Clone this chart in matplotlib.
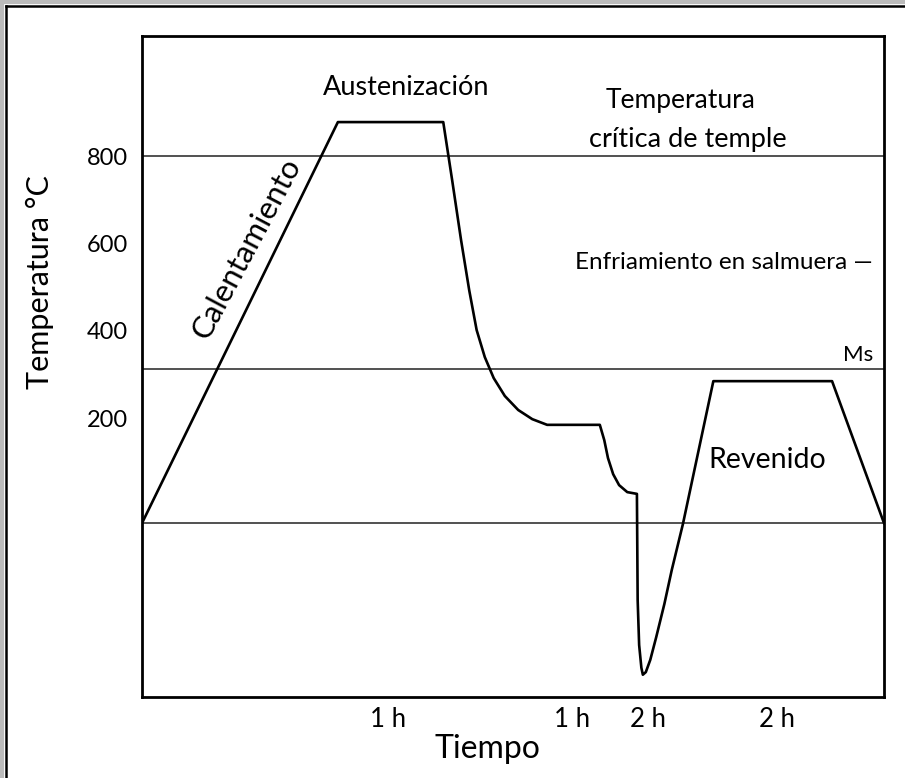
import matplotlib.pyplot as plt
from matplotlib.lines import Line2D

# curva de tratamiento termico (tiempo en unidades arbitrarias, temperatura en °C)
tiempo = [0.0, 26.4, 40.6, 41.8, 43.0, 44.1, 45.1, 46.2, 47.4, 48.9, 50.7, 52.6, 54.6,
          61.7, 62.3, 62.8, 63.5, 64.3, 65.4, 66.7, 66.8, 67.0, 67.3, 67.5, 67.9, 68.5,
          69.3, 70.4, 71.4, 72.9, 77.0, 93.0, 100.0]
temperatura = [-40, 878, 878, 745, 608, 493, 402, 340, 292, 251, 219, 198, 185,
               185, 150, 109, 72, 47, 31, 27, -216, -319, -371, -387, -381, -353,
               -301, -225, -147, -42, 285, 285, -40]

lineas_ref = [800, 313, -40]          # critica de temple, Ms, ambiente
yticks = [800, 600, 400, 200]
xlabels = ["1 h", "1 h", "2 h", "2 h"]
xlabel_pos = [33.2, 57.9, 68.2, 85.6]

plt.rcParams['font.family'] = ['Lato', 'DejaVu Sans']

fig = plt.figure(figsize=(9.05, 7.78), dpi=100)
ax = fig.add_axes([0.1569, 0.1041, 0.8199, 0.8496])

for t in lineas_ref:
    ax.axhline(t, color='#222222', lw=1.1, zorder=1)
ax.plot(tiempo, temperatura, color='black', lw=1.9, zorder=2)

ax.set_xlim(0, 100)
ax.set_ylim(-438, 1075)
ax.set_yticks(yticks)
ax.set_yticklabels([str(v) for v in yticks], fontsize=17)
ax.set_xticks(xlabel_pos)
ax.set_xticklabels(xlabels, fontsize=18.5)
ax.tick_params(axis='y', length=0, pad=10)
ax.tick_params(axis='x', length=0, pad=7)
for s in ax.spines.values():
    s.set_linewidth(2)
ax.set_ylabel("Temperatura °C", fontsize=22)
ax.yaxis.set_label_coords(-0.118, 0.628)
ax.set_xlabel("Tiempo", fontsize=23)
ax.xaxis.set_label_coords(0.466, -0.056)

# textos
ax.text(35.6, 958, "Austenización", fontsize=19.5, ha='center', va='center')
ax.text(72.6, 928, "Temperatura", fontsize=19, ha='center', va='center')
ax.text(73.5, 839, "crítica de temple", fontsize=19.5, ha='center', va='center')
ax.text(14.15, 589, "Calentamiento", fontsize=22.5, ha='center', va='center', rotation=62)
ax.text(98.5, 557, "Enfriamiento en salmuera —", fontsize=17.5, ha='right', va='center')
ax.text(98.5, 345, "Ms", fontsize=16, ha='right', va='center')
ax.text(84.2, 105, "Revenido", fontsize=20.5, ha='center', va='center')

# marco exterior
fig.add_artist(Line2D([0.0025, 0.0025], [0, 1], color='#bbbbbb', lw=3))
fig.add_artist(Line2D([0, 1], [0.997, 0.997], color='#bbbbbb', lw=3))
fig.add_artist(Line2D([0.0061, 0.0061], [0, 0.9925], color='black', lw=1.8))
fig.add_artist(Line2D([0.0061, 1], [0.9925, 0.9925], color='black', lw=1.8))

fig.savefig("out.png", dpi=100)
